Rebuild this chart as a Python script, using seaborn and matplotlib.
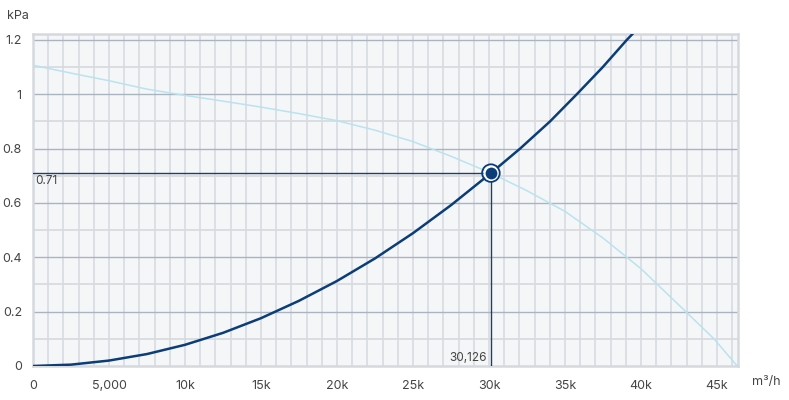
import numpy as np
import pandas as pd
import matplotlib
matplotlib.use("Agg")
import matplotlib.pyplot as plt
import seaborn as sns

# ---- data ----
sys_flow = [0, 2500, 5000, 7500, 10000, 12500, 15000, 17500, 20000, 22500, 25000,
            27500, 30126, 32040, 34010, 35770, 37480, 39060, 40000]
sys_kpa = [0, 0.005, 0.02, 0.044, 0.078, 0.122, 0.176, 0.24, 0.313, 0.396, 0.489,
           0.592, 0.71, 0.8, 0.9, 1.0, 1.1, 1.2, 1.255]

fan_flow = [0, 2500, 5000, 7500, 10000, 12500, 15000, 17500, 20000, 22500, 25000,
            27500, 30126, 32500, 35000, 37500, 40000, 42500, 44800, 46330]
fan_kpa = [1.107, 1.078, 1.05, 1.019, 0.996, 0.975, 0.953, 0.929, 0.903, 0.868, 0.826,
           0.772, 0.71, 0.645, 0.569, 0.471, 0.358, 0.224, 0.1, 0.0]

op_flow = 30126
op_kpa = 0.71

x_ticks = [0, 5000, 10000, 15000, 20000, 25000, 30000, 35000, 40000, 45000]
x_labels = ["0", "5,000", "10k", "15k", "20k", "25k", "30k", "35k", "40k", "45k"]
y_ticks = [0, 0.2, 0.4, 0.6, 0.8, 1.0, 1.2]
y_labels = ["0", "0.2", "0.4", "0.6", "0.8", "1", "1.2"]

# ---- style ----
sns.set_style("white")
plt.rcParams["font.family"] = ["Inter", "DejaVu Sans"]

fig = plt.figure(figsize=(7.89, 4.0), dpi=100)
ax = fig.add_axes([33 / 789, 34 / 400, (738 - 33) / 789, (366 - 34) / 400])
ax.set_facecolor("#f5f6f8")

XMAX, YMAX = 46380, 1.222
ax.set_xlim(0, XMAX)
ax.set_ylim(0, YMAX)

# grid
for xv in np.arange(1000, XMAX, 1000):
    ax.axvline(xv, color="#dadde1", lw=1.3, zorder=0.5)
for yv in np.arange(0.1, YMAX, 0.2):
    ax.axhline(yv, color="#d6d9dd", lw=1.2, zorder=0.6)
for yv in y_ticks[1:]:
    ax.axhline(yv, color="#aab4c0", lw=1.0, zorder=0.7)

sys_df = pd.DataFrame({"flow": sys_flow, "kpa": sys_kpa})
fan_df = pd.DataFrame({"flow": fan_flow, "kpa": fan_kpa})

sns.lineplot(data=fan_df, x="flow", y="kpa", ax=ax, color="#b9e3f0", lw=1.1,
             sort=True, zorder=3)
sns.lineplot(data=sys_df, x="flow", y="kpa", ax=ax, color="#0b3d78", lw=1.8,
             sort=True, zorder=4)

# operating point guides
ax.plot([0, op_flow], [op_kpa, op_kpa], color="#1d3f6e", lw=1.0, zorder=5)
ax.plot([op_flow, op_flow], [0, op_kpa], color="#1d3f6e", lw=1.0, zorder=5)
ax.scatter([op_flow], [op_kpa], s=100, facecolor="#0b3d78", edgecolor="white",
           linewidth=1.5, zorder=6)
ax.scatter([op_flow], [op_kpa], s=160, facecolor="none", edgecolor="#0b3d78",
           linewidth=1.3, zorder=6)

ax.text(150, op_kpa - 0.008, "0.71", ha="left", va="top", fontsize=8.5,
        color="#444444", zorder=7)
ax.text(op_flow - 250, 0.008, "30,126", ha="right", va="bottom", fontsize=8.5,
        color="#444444", zorder=7)

# axes styling
ax.set_xticks(x_ticks)
ax.set_xticklabels(x_labels)
ax.set_yticks(y_ticks)
ax.set_yticklabels(y_labels)
ax.tick_params(axis="both", colors="#aab4c0", labelcolor="#444444", labelsize=9,
               length=5, width=1)
ax.tick_params(axis="x", pad=5)
ax.tick_params(axis="y", pad=3)
ax.set_xlabel("")
ax.set_ylabel("")
for sp in ax.spines.values():
    sp.set_color("#d5d9de")
    sp.set_linewidth(1.8)

fig.text(7 / 789, 1 - 16 / 400, "kPa", ha="left", va="center", fontsize=9,
         color="#444444")
fig.text(752 / 789, 1 - 382 / 400, "m³/h", ha="left", va="center", fontsize=9,
         color="#444444")

fig.savefig("out.png", dpi=100)
